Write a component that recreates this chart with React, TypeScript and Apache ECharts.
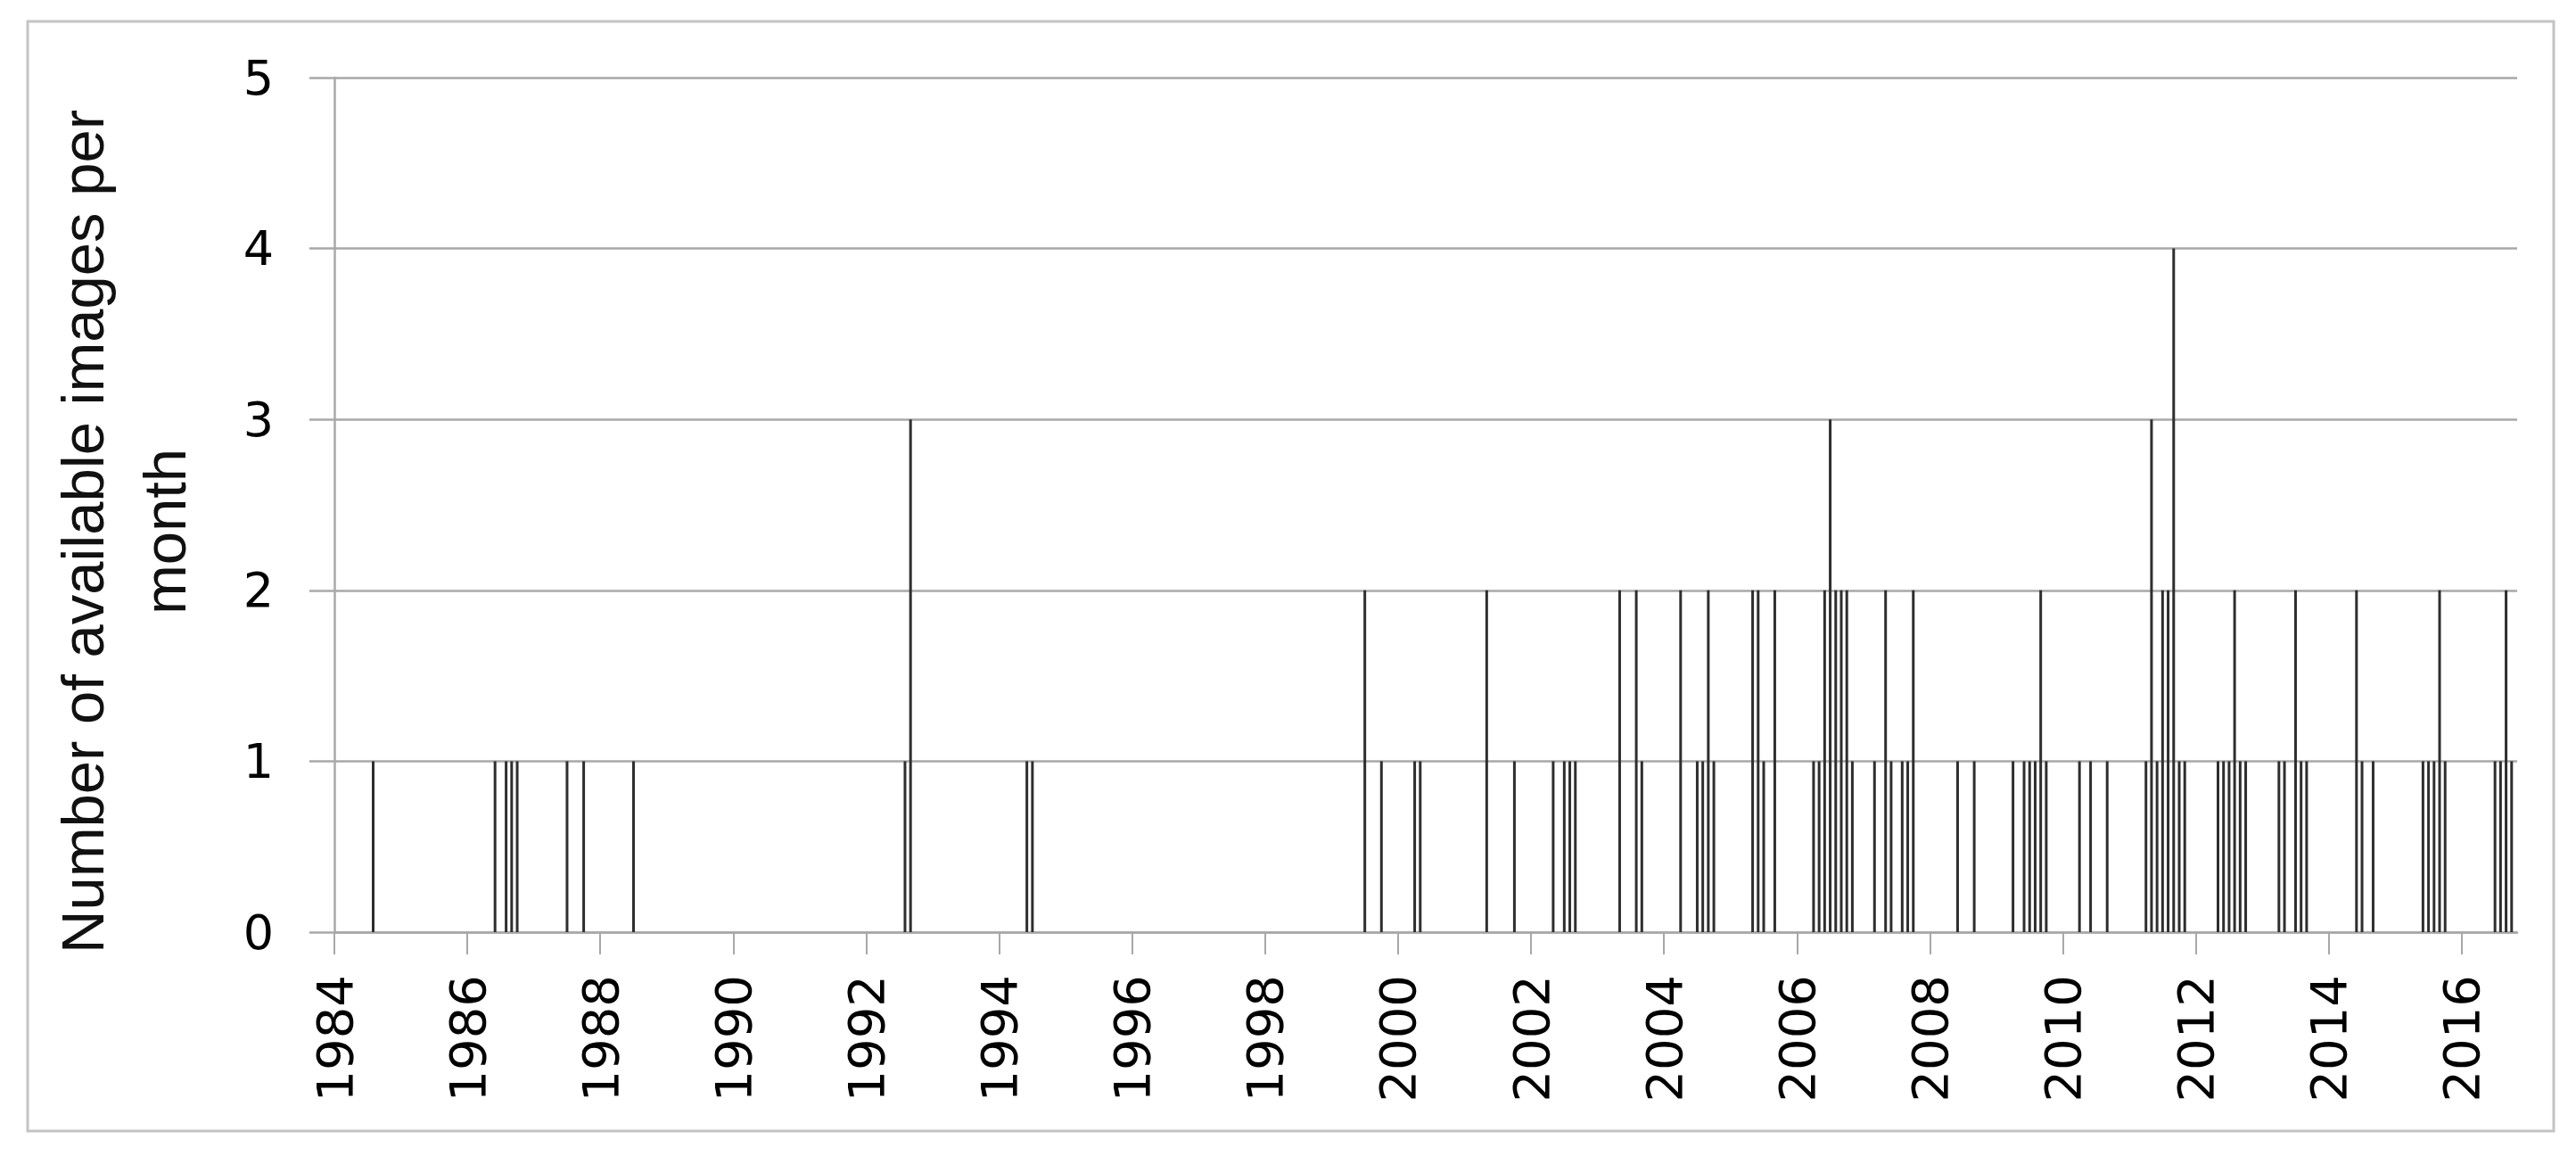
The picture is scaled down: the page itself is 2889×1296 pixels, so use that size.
import React, { useEffect, useRef } from 'react';
import * as echarts from 'echarts';

// Months (YYYY-MM) with available images, and the number of images in that month
const months: string[] = [
  '1984-08', '1986-06', '1986-08', '1986-09', '1986-10', '1987-07', '1987-10', '1988-07',
  '1992-08', '1992-09', '1994-06', '1994-07',
  '1999-07', '1999-10', '2000-04', '2000-05', '2001-05', '2001-10',
  '2002-05', '2002-07', '2002-08', '2002-09',
  '2003-05', '2003-08', '2003-09',
  '2004-04', '2004-07', '2004-08', '2004-09', '2004-10',
  '2005-05', '2005-06', '2005-07', '2005-09',
  '2006-04', '2006-05', '2006-06', '2006-07', '2006-08', '2006-09', '2006-10', '2006-11',
  '2007-03', '2007-05', '2007-06', '2007-08', '2007-09', '2007-10',
  '2008-06', '2008-09',
  '2009-04', '2009-06', '2009-07', '2009-08', '2009-09', '2009-10',
  '2010-04', '2010-06', '2010-09',
  '2011-04', '2011-05', '2011-06', '2011-07', '2011-08', '2011-09', '2011-10', '2011-11',
  '2012-05', '2012-06', '2012-07', '2012-08', '2012-09', '2012-10',
  '2013-04', '2013-05', '2013-07', '2013-08', '2013-09',
  '2014-06', '2014-07', '2014-09',
  '2015-06', '2015-07', '2015-08', '2015-09', '2015-10',
  '2016-07', '2016-08', '2016-09', '2016-10',
];
const counts: number[] = [
  1, 1, 1, 1, 1, 1, 1, 1,
  1, 3, 1, 1,
  2, 1, 1, 1, 2, 1,
  1, 1, 1, 1,
  2, 2, 1,
  2, 1, 1, 2, 1,
  2, 2, 1, 2,
  1, 1, 2, 3, 2, 2, 2, 1,
  1, 2, 1, 1, 1, 2,
  1, 1,
  1, 1, 1, 1, 2, 1,
  1, 1, 1,
  1, 3, 1, 2, 2, 4, 1, 1,
  1, 1, 1, 2, 1, 1,
  1, 1, 2, 1, 1,
  2, 1, 1,
  1, 1, 1, 2, 1,
  1, 1, 2, 1,
];

const yearTicks: number[] = [1984, 1986, 1988, 1990, 1992, 1994, 1996, 1998, 2000, 2002, 2004, 2006, 2008, 2010, 2012, 2014, 2016];
const axisStartMonth = '1984-01';
const axisEndMonth = '2016-11';
const yTicks: number[] = [0, 1, 2, 3, 4, 5];
const yTitle = 'Number of available images per\nmonth';

const toYear = (s: string): number => {
  const [y, m] = s.split('-').map(Number);
  return y + (m - 1) / 12;
};

const GRID = '#a8a8a8';

export default function App() {
  const ref = useRef<HTMLDivElement>(null);
  useEffect(() => {
    if (!ref.current) return;
    const chart = echarts.init(ref.current, null, { renderer: 'svg' });
    const data = months.map((m, i) => [toYear(m), counts[i]]);
    chart.setOption({
      animation: false,
      backgroundColor: '#ffffff',
      grid: { left: 375, right: 66, top: 87, bottom: 251, containLabel: false },
      xAxis: {
        type: 'value',
        min: toYear(axisStartMonth),
        max: toYear(axisEndMonth),
        interval: 2,
        splitLine: { show: false },
        axisLine: { show: true, onZero: false, lineStyle: { color: GRID, width: 2.5 } },
        axisTick: { show: true, length: 25, lineStyle: { color: GRID, width: 2 }, customValues: yearTicks },
        axisLabel: {
          customValues: yearTicks,
          rotate: 90,
          margin: 48,
          fontSize: 56,
          fontFamily: 'DejaVu Sans',
          color: '#000',
          formatter: (v: number) => String(Math.round(v)),
        },
      },
      yAxis: {
        type: 'value',
        min: yTicks[0],
        max: yTicks[yTicks.length - 1],
        interval: 1,
        splitLine: { show: true, lineStyle: { color: GRID, width: 2.5 } },
        axisLine: { show: true, lineStyle: { color: GRID, width: 2.5 } },
        axisTick: { show: true, length: 28, lineStyle: { color: GRID, width: 2.5 } },
        axisLabel: {
          margin: 68,
          fontSize: 54,
          fontFamily: 'DejaVu Sans',
          color: '#000',
        },
      },
      series: [
        {
          type: 'bar',
          data,
          barWidth: 3,
          silent: true,
          itemStyle: { color: '#2e2e2e' },
        },
      ],
      graphic: [
        {
          type: 'rect',
          shape: { x: 31, y: 24, width: 2833, height: 1244 },
          style: { fill: 'none', stroke: '#c4c4c4', lineWidth: 3 },
          silent: true,
        },
        {
          type: 'text',
          x: 138,
          y: 596,
          rotation: Math.PI / 2,
          style: {
            text: yTitle,
            align: 'center',
            verticalAlign: 'middle',
            lineHeight: 92,
            fontSize: 67,
            fontFamily: 'Liberation Sans',
            fill: '#111',
          },
          silent: true,
        },
      ],
    });
    return () => chart.dispose();
  }, []);
  return (
    <div
      ref={ref}
      style={{ position: 'absolute', left: 0, top: 0, width: 2889, height: 1296, background: '#fff' }}
    />
  );
}
